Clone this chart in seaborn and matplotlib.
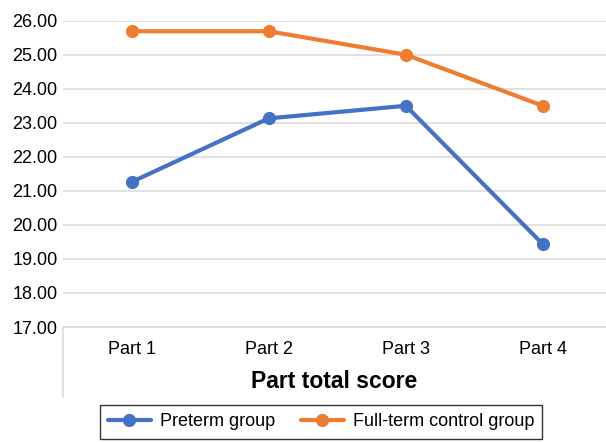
import numpy as np
import pandas as pd
import matplotlib

matplotlib.use("Agg")
import matplotlib.pyplot as plt
import seaborn as sns

parts = ["Part 1", "Part 2", "Part 3", "Part 4"]
preterm = [21.26, 23.13, 23.50, 19.43]
fullterm = [25.69, 25.69, 25.00, 23.50]
series_names = ["Preterm group", "Full-term control group"]
y_ticks = [17, 18, 19, 20, 21, 22, 23, 24, 25, 26]

df = pd.DataFrame(
    {
        "Part": parts * 2,
        "Score": preterm + fullterm,
        "Group": [series_names[0]] * len(parts) + [series_names[1]] * len(parts),
    }
)

sns.set_theme(style="white")
plt.rcParams["font.family"] = ["Liberation Sans", "DejaVu Sans"]
plt.rcParams["text.color"] = "#000000"

fig = plt.figure(figsize=(6.06, 4.43), dpi=100)
ax = fig.add_axes([63 / 606, 116 / 443, 543 / 606, (327 - 20.7) / 443])

sns.lineplot(
    data=df,
    x="Part",
    y="Score",
    hue="Group",
    palette=["#4472C4", "#ED7D31"],
    marker="o",
    markersize=9.5,
    markeredgewidth=0,
    linewidth=3,
    ax=ax,
    legend=True,
)

ax.set_ylim(17, 26)
ax.set_xlim(-0.5, 3.46)
ax.set_yticks(y_ticks)
ax.set_yticklabels([f"{v:.2f}" for v in y_ticks])
ax.yaxis.grid(True, color="#d9d9d9", linewidth=1.1)
ax.set_axisbelow(True)
ax.tick_params(axis="y", length=0, pad=4, labelsize=13, labelcolor="#000000")
ax.tick_params(axis="x", length=0, pad=10, labelsize=13, labelcolor="#000000")
ax.set_ylabel("")
ax.set_xlabel("Part total score", fontsize=16.5, fontweight="bold", labelpad=9,
              color="#000000")

for s in ["top", "right", "left"]:
    ax.spines[s].set_visible(False)
ax.spines["bottom"].set_color("#d9d9d9")
ax.spines["bottom"].set_linewidth(1.1)

# category axis boundary line reaching below the axis
ax.plot([0, 0], [0, -70 / 306], transform=ax.transAxes, color="#d9d9d9",
        linewidth=1.1, clip_on=False)

handles, labels = ax.get_legend_handles_labels()
ax.get_legend().remove()
leg = fig.legend(
    handles,
    labels,
    loc="center",
    bbox_to_anchor=(321 / 606, 1 - 422 / 443),
    ncol=2,
    frameon=True,
    fancybox=False,
    fontsize=13,
    handlelength=2.4,
    handletextpad=0.5,
    columnspacing=1.4,
    borderpad=0.45,
)
leg.get_frame().set_edgecolor("#000000")
leg.get_frame().set_linewidth(1.0)
for t in leg.get_texts():
    t.set_color("#000000")

fig.savefig("out.png", dpi=100)
